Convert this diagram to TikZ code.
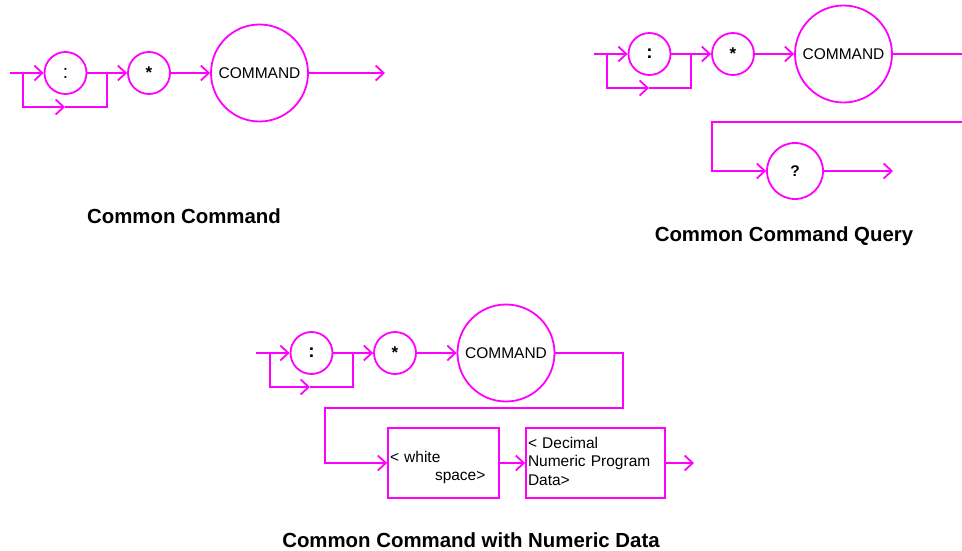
\documentclass[tikz,border=0pt]{standalone}
\usepackage{fontspec}
\setmainfont{Liberation Sans}
\usetikzlibrary{arrows.meta}
\definecolor{mag}{RGB}{255,0,255}
\tikzset{
  flow/.style={draw=mag, line width=1.8pt},
  arr/.style={flow, -{Straight Barb[length=8pt,width=15pt]}},
  ring/.style={circle, draw=mag, line width=1.8pt, inner sep=0pt, font=\fontsize{15.5}{18}\selectfont},
  smallring/.style={ring, minimum size=42pt},
  bigring/.style={ring, minimum size=97pt},
  qring/.style={ring, minimum size=56pt},
  colonfont/.style={font=\fontsize{19}{20}\selectfont},
  starfont/.style={font=\bfseries\fontsize{17}{20}\selectfont},
  boldfont/.style={font=\bfseries\fontsize{19}{20}\selectfont},
  qfont/.style={font=\bfseries\fontsize{15.5}{18}\selectfont},
  boxnode/.style={draw=mag, line width=1.8pt, rectangle, align=left, inner xsep=2pt, inner ysep=0pt, minimum height=70pt, font=\fontsize{15.5}{18.5}\selectfont},
  caption/.style={font=\bfseries\fontsize{20.4}{24}\selectfont}
}
\begin{document}
\begin{tikzpicture}[x=1pt,y=-1pt]
\useasboundingbox (0,0) rectangle (962,551);
% ---------- Common Command ----------
\node[smallring,colonfont] (c1) at (65.5,73) {:};
\node[smallring,starfont] (s1) at (149,73) {*};
\node[bigring] (m1) at (259.5,73) {COMMAND};
\coordinate (in1) at (10,73);
\coordinate (sp1) at (23,73);
\coordinate (jn1) at (107,73);
\coordinate (bl1) at (23,107);
\coordinate (bm1) at (65,107);
\coordinate (br1) at (107,107);
\coordinate (out1) at (385,73);
\draw[arr] (in1) -- (c1);
\draw[arr] (sp1) -- (bl1) -- (bm1);
\draw[flow] (bm1) -- (br1) -- (jn1);
\draw[flow] (c1) -- (jn1);
\draw[arr] (jn1) -- (s1);
\draw[arr] (s1) -- (m1);
\draw[arr] (m1) -- (out1);
\node[caption] (cap1) at (184,216) {Common Command};
% ---------- Common Command Query ----------
\node[smallring,boldfont] (c2) at (649.5,54) {:};
\node[smallring,starfont] (s2) at (733,54) {*};
\node[bigring] (m2) at (843.5,54) {COMMAND};
\node[qring,qfont] (q2) at (795,171) {?};
\coordinate (in2) at (594,54);
\coordinate (sp2) at (607,54);
\coordinate (jn2) at (691,54);
\coordinate (bl2) at (607,88);
\coordinate (bm2) at (649,88);
\coordinate (br2) at (691,88);
\coordinate (e2a) at (962,54);
\coordinate (e2b) at (962,122);
\coordinate (r2) at (712,122);
\coordinate (out2) at (893,171);
\draw[arr] (in2) -- (c2);
\draw[arr] (sp2) -- (bl2) -- (bm2);
\draw[flow] (bm2) -- (br2) -- (jn2);
\draw[flow] (c2) -- (jn2);
\draw[arr] (jn2) -- (s2);
\draw[arr] (s2) -- (m2);
\draw[flow] (m2) -- (e2a);
\draw[arr] (e2b) -- (r2) |- (q2);
\draw[arr] (q2) -- (out2);
\node[caption] (cap2) at (784,236) {Common Command Query};
% ---------- Common Command with Numeric Data ----------
\node[smallring,boldfont] (c3) at (311.5,353) {:};
\node[smallring,starfont] (s3) at (395,353) {*};
\node[bigring] (m3) at (506,353) {COMMAND};
\node[boxnode,text width=107pt] (w3) at (443.5,463) {\rule{0pt}{20pt}< white\\\hspace*{45pt}space>};
\node[boxnode,text width=135pt] (d3) at (595.5,463) {< Decimal\\Numeric Program\\Data>\rule[-4pt]{0pt}{4pt}};
\coordinate (in3) at (256,353);
\coordinate (sp3) at (270,353);
\coordinate (jn3) at (353,353);
\coordinate (bl3) at (270,387);
\coordinate (bm3) at (310,387);
\coordinate (br3) at (353,387);
\coordinate (t3a) at (623,353);
\coordinate (t3b) at (623,408);
\coordinate (t3c) at (325,408);
\coordinate (out3) at (694,463);
\draw[arr] (in3) -- (c3);
\draw[arr] (sp3) -- (bl3) -- (bm3);
\draw[flow] (bm3) -- (br3) -- (jn3);
\draw[flow] (c3) -- (jn3);
\draw[arr] (jn3) -- (s3);
\draw[arr] (s3) -- (m3);
\draw[arr] (m3) -- (t3a) -- (t3b) -- (t3c) |- (w3);
\draw[arr] (w3) -- (d3);
\draw[arr] (d3) -- (out3);
\node[caption] (cap3) at (471,540) {Common Command with Numeric Data};
\end{tikzpicture}
\end{document}
